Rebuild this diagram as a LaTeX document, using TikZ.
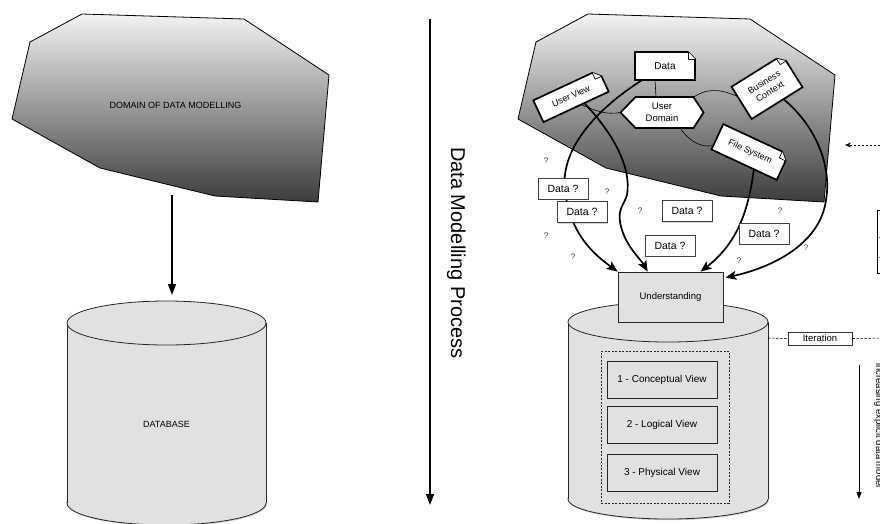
\documentclass[tikz,border=0pt]{standalone}
\usepackage{fontspec}
\setmainfont{Liberation Sans}
\usetikzlibrary{arrows.meta,calc,shadows}
\pgfdeclarelayer{back}
\pgfdeclarelayer{mid}
\pgfdeclarelayer{docs}
\pgfsetlayers{back,mid,docs,main}
\definecolor{cylgray}{HTML}{E1E1E1}
\definecolor{polytop}{HTML}{F3F3F3}
\definecolor{polybot}{HTML}{3C3C3C}

\tikzset{
 softshadow/.style={drop shadow={shadow xshift=1pt, shadow yshift=-1.2pt, opacity=0.35}},
 polyline/.style={draw=black, line width=0.8pt, top color=polytop, bottom color=polybot},
 cylline/.style={draw=black!85, line width=0.8pt},
 lbl/.style={inner sep=1pt, font=\fontsize{9}{11}\selectfont},
 docn/.style={inner sep=0pt, outer sep=0pt, align=center, font=\fontsize{9}{11}\selectfont},
 docline/.style={draw=black, line width=1.7pt, line join=miter, fill=white},
 thinlink/.style={draw=black, line width=0.6pt},
 bigarrow/.style={draw=black, line width=1.7pt, -{Stealth[length=11pt,width=9pt,inset=2.5pt]}},
 dq/.style={draw=black!75, line width=0.5pt, fill=white, minimum width=50pt, minimum height=21pt, inner sep=0pt, font=\fontsize{10.5}{12}\selectfont, softshadow},
 qm/.style={inner sep=0pt, font=\fontsize{8}{9}\selectfont, text=black!80},
 viewbox/.style={draw=black!85, line width=0.6pt, fill=cylgray, minimum width=110pt, minimum height=37pt, inner sep=0pt, font=\fontsize{10}{12}\selectfont},
 plainarrow/.style={draw=black, line width=1.5pt, -{Triangle[length=11pt,width=8pt]}},
}

\newcommand{\drawcyl}[5]{%
  \path[fill=cylgray, cylline, softshadow] (#1,#4) ellipse[x radius=#2, y radius=#5];
  \path[fill=cylgray] (#1-#2,#3) rectangle (#1+#2,#4);
  \draw[cylline] (#1-#2,#3) -- (#1-#2,#4) (#1+#2,#3) -- (#1+#2,#4);
  \path[fill=cylgray, cylline] (#1,#3) ellipse[x radius=#2, y radius=#5];
}

\newcommand{\docshape}[1]{%
  \path (#1.north east) coordinate (#1-c)
        ($(#1.north east)!7pt!(#1.north west)$) coordinate (#1-p)
        ($(#1.north east)!7pt!(#1.south east)$) coordinate (#1-q);
  \path[docline, softshadow] (#1.north west) -- (#1-p) -- (#1-q) -- (#1.south east) -- (#1.south west) -- cycle;
  \path[draw=black, line width=0.7pt, fill=white, line join=round] (#1-p) -- ($(#1-p)+(#1-q)-(#1-c)$) -- (#1-q);
}

\begin{document}
\begin{tikzpicture}[x=1pt,y=-1pt]
\useasboundingbox (0,0) rectangle (880,523);

% ---------- left side ----------
\begin{pgfonlayer}{back}
\path[polyline] (82,14) -- (244,19) -- (329,75) -- (318,202) -- (215,196) -- (100,168) -- (12,119) -- (30,42) -- cycle;
\drawcyl{166.5}{99.5}{323}{503}{22}
\path[polyline] (588,14) -- (750,19) -- (835,75) -- (824,202) -- (721,196) -- (606,168) -- (518,119) -- (536,42) -- cycle;
\drawcyl{668}{100}{322}{499}{20}
\end{pgfonlayer}

\node[lbl] (dom) at (175.5,105) {DOMAIN OF DATA MODELLING};
\node[lbl] (dbl) at (166.5,424) {DATABASE};
\coordinate (domB) at (172,195);
\coordinate (dbT) at (172,295);
\draw[plainarrow] (domB) -- (dbT);

% ---------- middle ----------
\coordinate (mA) at (430,19);
\coordinate (mB) at (430,505);
\draw[plainarrow, line width=1.6pt] (mA) -- (mB);
\node[rotate=-90, anchor=base west, inner sep=0pt, font=\fontsize{20}{24}\selectfont] (dmp) at (451,147) {Data Modelling Process};

% ---------- right side nodes ----------
\node[docn, minimum width=60pt, minimum height=28pt, font=\fontsize{10}{12}\selectfont] (data) at (665,66) {Data};
\node[docn, minimum width=72pt, minimum height=24pt, rotate=25] (uv) at (571,96) {User View};
\node[docn, minimum width=60pt, minimum height=38pt, rotate=32] (bc) at (767,87) {Business\\Context};
\node[docn, minimum width=72pt, minimum height=28pt, rotate=-25] (fsy) at (750,152) {File System};
\node[docn, minimum width=83pt, minimum height=31pt, font=\fontsize{9.5}{11.5}\selectfont] (ud) at (662,112.5) {User\\Domain};

\node[draw=black!85, line width=0.7pt, fill=cylgray, minimum width=105pt, minimum height=50pt, inner sep=0pt, font=\fontsize{9.5}{11}\selectfont, softshadow] (und) at (670.5,297) {Understanding};

\begin{pgfonlayer}{docs}
\docshape{data}
\docshape{uv}
\docshape{bc}
\docshape{fsy}
\path[docline, softshadow] (ud.west) -- ($(ud.north west)+(15,0)$) -- ($(ud.north east)+(-10,0)$) -- (ud.east) -- ($(ud.south east)+(-10,0)$) -- ($(ud.south west)+(15,0)$) -- cycle;
\end{pgfonlayer}

\begin{pgfonlayer}{mid}
\path[thinlink] ($(uv.south)!0.15!(uv.south east)$) .. controls (596,111) and (606,115) .. (ud.west);
\path[thinlink] ($(data.south)+(-10,0)$) -- ($(ud.north)+(-6,0)$);
\path[thinlink] ($(ud.north east)+(-10,0)$) .. controls (705,90) and (716,87) .. ($(bc.north west)!0.3!(bc.south west)$);
\path[thinlink] ($(ud.south)+(18,0)$) .. controls (688,140) and (700,148) .. ($(fsy.west)!0.7!(fsy.south west)$);

\draw[bigarrow] ($(data.south west)!0.12!(data.south east)$) .. controls (595,110) and (560,150) .. (565,190) .. controls (570,235) and (595,255) .. (und.north west);
\draw[bigarrow] ($(uv.south)!0.25!(uv.south east)$) .. controls (610,130) and (632,165) .. (627,195) .. controls (624,205) and (618,208) .. (620,222) .. controls (624,245) and (640,258) .. ($(und.north west)+(30,0)$);
\draw[bigarrow] ($(fsy.south)!0.3!(fsy.south east)$) .. controls (748,215) and (735,245) .. ($(und.north)+(30,0)$);
\draw[bigarrow] ($(bc.south)!0.25!(bc.south east)$) .. controls (815,125) and (832,165) .. (826,200) .. controls (820,245) and (770,268) .. ($(und.north east)+(2,6)$);
\end{pgfonlayer}

% Data ? boxes
\node[dq] (dqa) at (563,188.5) {Data ?};
\node[dq] (dqb) at (582,212) {Data ?};
\node[dq] (dqc) at (687,211) {Data ?};
\node[dq] (dqd) at (670,245.5) {Data ?};
\node[dq] (dqe) at (764,233.5) {Data ?};

% question marks
\node[qm] (q1) at (546,161) {?};
\node[qm] (q2) at (607,192) {?};
\node[qm] (q3) at (640,211) {?};
\node[qm] (q4) at (546,236) {?};
\node[qm] (q5) at (573,257) {?};
\node[qm] (q6) at (780,211) {?};
\node[qm] (q7) at (739,261) {?};
\node[qm] (q8) at (806,248) {?};

% inside right cylinder
\node[draw=black!85, line width=0.6pt, dash pattern=on 2pt off 1.5pt, minimum width=128pt, minimum height=152pt, inner sep=0pt] (vgroup) at (665,427) {};
\node[viewbox] (v1) at (662,379.5) {1 - Conceptual View};
\node[viewbox] (v2) at (662,425) {2 - Logical View};
\node[viewbox] (v3) at (662,473) {3 - Physical View};

% iteration
\node[draw=black!80, line width=0.6pt, fill=white, minimum width=64pt, minimum height=13pt, inner sep=0pt, font=\fontsize{9.5}{11}\selectfont, softshadow] (iter) at (820,338.5) {Iteration};
\coordinate (itL) at (768,338);
\coordinate (itR) at (884,338);
\draw[line width=0.6pt, dash pattern=on 2.5pt off 1.5pt] (itL) -- (iter.west) (iter.east) -- (itR);

% right dashed arrow
\coordinate (daS) at (884,145);
\coordinate (daE) at (845,145);
\draw[line width=0.6pt, dash pattern=on 2.5pt off 1.5pt, -{Stealth[length=6pt,width=5pt]}] (daS) -- (daE);

% partial box at right edge
\draw[line width=0.8pt] (877,210) rectangle (900,273);
\draw[line width=0.6pt, black!60] (878.5,237) -- (880,237) (878.5,257) -- (880,257);

% increasing arrow
\coordinate (ra1) at (859,365);
\coordinate (ra2) at (859,499);
\draw[line width=0.8pt, -{Triangle[length=7pt,width=5pt]}] (ra1) -- (ra2);
\node[rotate=-90, anchor=base west, inner sep=0pt, font=\fontsize{9.5}{11}\selectfont] (incr) at (876,363) {increasing explicit data model};
\end{tikzpicture}
\end{document}
